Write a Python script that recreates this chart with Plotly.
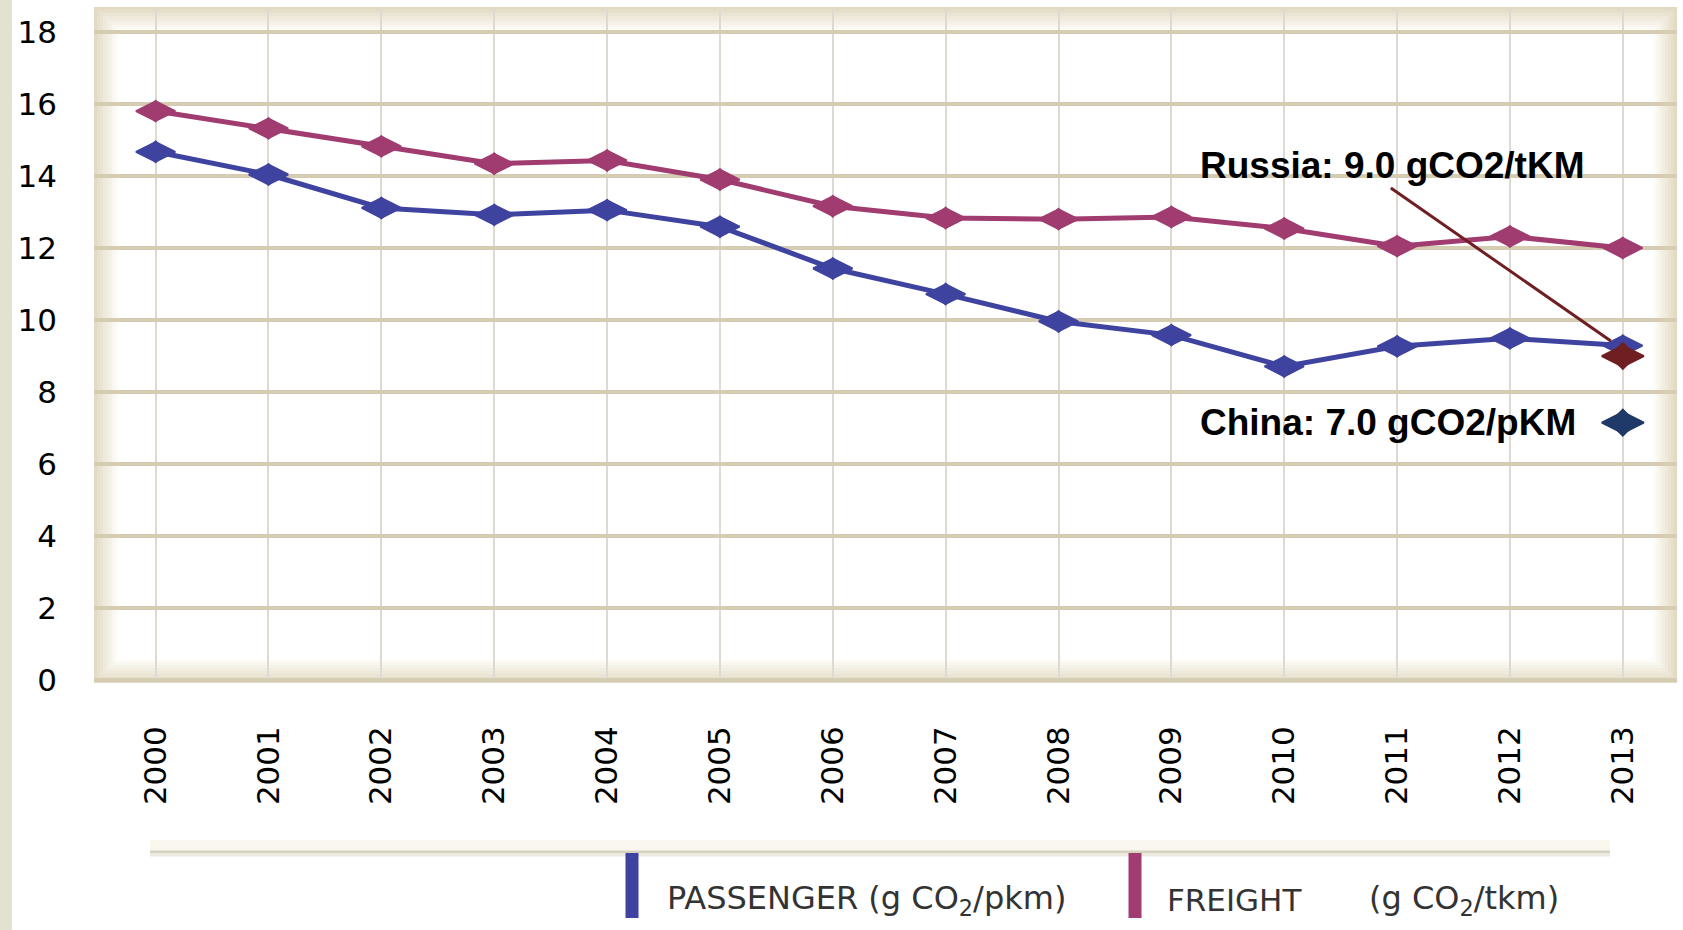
import plotly.graph_objects as go

# ---------------- data ----------------
years = list(range(2000, 2014))
year_labels = [str(y) for y in years]
passenger = [14.67, 14.04, 13.11, 12.92, 13.05, 12.59, 11.43, 10.72, 9.96, 9.58, 8.71, 9.27, 9.49, 9.29]
freight = [15.80, 15.32, 14.82, 14.34, 14.43, 13.90, 13.16, 12.83, 12.80, 12.86, 12.54, 12.05, 12.32, 12.00]
y_ticks = [0, 2, 4, 6, 8, 10, 12, 14, 16, 18]
russia_year, russia_value = 2013, 9.0
china_year, china_value = 2013, 7.15
russia_label = "Russia: 9.0 gCO2/tKM"
china_label = "China: 7.0 gCO2/pKM"
legend_passenger = "PASSENGER (g CO<sub>2</sub>/pkm)"
legend_freight = "FREIGHT"
legend_freight_unit = "(g CO<sub>2</sub>/tkm)"

# ---------------- styling ----------------
FIG_W, FIG_H = 1683, 930
L, R, T, B = 94, 6, 7, 247
PW, PH = FIG_W - L - R, FIG_H - T - B

PASS_COL = "#3f43a0"
FREIGHT_COL = "#a03c70"
RUSSIA_COL = "#6f1f22"
CHINA_COL = "#1f3a68"


def px(x):
    return (x - L) / PW


def py(y):
    return (FIG_H - B - y) / PH


fig = go.Figure()


def add_series(xs, ys, col, wide_size, core_size, with_line):
    fig.add_trace(go.Scatter(
        x=xs, y=ys, mode="lines+markers" if with_line else "markers",
        line=dict(color=col, width=5),
        marker=dict(symbol="diamond-wide", size=wide_size, color=col,
                    line=dict(color=col, width=2)),
        showlegend=False))
    fig.add_trace(go.Scatter(
        x=xs, y=ys, mode="markers",
        marker=dict(symbol="diamond", size=core_size, color=col),
        showlegend=False, hoverinfo="skip"))


add_series(years, freight, FREIGHT_COL, 28, 18, True)
add_series(years, passenger, PASS_COL, 28, 18, True)
add_series([russia_year], [russia_value], RUSSIA_COL, 30, 22, False)
add_series([china_year], [china_value], CHINA_COL, 30, 22, False)

shapes = []
# left beige strip of the page
shapes.append(dict(type="rect", xref="paper", yref="paper",
                   x0=px(0), x1=px(12), y0=py(FIG_H), y1=py(0),
                   fillcolor="#e3e1cf", line=dict(width=0), layer="below"))
# vignette of the plot area
n = 8
c0, c1 = (226, 218, 196), (253, 252, 247)
for i in range(n):
    t = i / (n - 1)
    col = "rgb(%d,%d,%d)" % tuple(round(a + (b - a) * t) for a, b in zip(c0, c1))
    d = 1.5 + 3 * i
    shapes.append(dict(type="rect", xref="paper", yref="paper",
                       x0=d / PW, x1=1 - d / PW, y0=d / PH, y1=1 - d / PH,
                       line=dict(color=col, width=3), fillcolor="rgba(0,0,0,0)",
                       layer="below"))
# legend band
shapes.append(dict(type="rect", xref="paper", yref="paper",
                   x0=px(150), x1=px(1610), y0=py(851), y1=py(840),
                   fillcolor="#faf7ee", line=dict(width=0), layer="below"))
shapes.append(dict(type="line", xref="paper", yref="paper",
                   x0=px(150), x1=px(1610), y0=py(852), y1=py(852),
                   line=dict(color="#d6d2c2", width=3), layer="below"))
shapes.append(dict(type="line", xref="paper", yref="paper",
                   x0=px(150), x1=px(1610), y0=py(855), y1=py(855),
                   line=dict(color="#ebe9e0", width=3), layer="below"))
# legend colour bars
shapes.append(dict(type="line", xref="paper", yref="paper",
                   x0=px(632), x1=px(632), y0=py(918), y1=py(853),
                   line=dict(color=PASS_COL, width=13)))
shapes.append(dict(type="line", xref="paper", yref="paper",
                   x0=px(1135), x1=px(1135), y0=py(918), y1=py(853),
                   line=dict(color=FREIGHT_COL, width=13)))
# Russia pointer line, anchored at the Russia value
shapes.append(dict(type="line", xref="x", yref="y",
                   xsizemode="pixel", ysizemode="pixel",
                   xanchor=russia_year, yanchor=russia_value,
                   x0=-232, y0=168, x1=-12, y1=15,
                   line=dict(color=RUSSIA_COL, width=3)))

annotations = [
    dict(x=russia_year, y=russia_value, xref="x", yref="y", text="<b>%s</b>" % russia_label,
         showarrow=False, xanchor="right", yanchor="middle", xshift=-37, yshift=191,
         font=dict(family="Liberation Sans, Arial", size=37, color="#000000")),
    dict(x=china_year, y=china_value, xref="x", yref="y", text="<b>%s</b>" % china_label,
         showarrow=False, xanchor="right", yanchor="middle", xshift=-45, yshift=0,
         font=dict(family="Liberation Sans, Arial", size=37, color="#000000")),
    dict(x=px(665), y=py(900), xref="paper", yref="paper", text=legend_passenger,
         showarrow=False, xanchor="left", yanchor="middle",
         font=dict(family="DejaVu Sans", size=32, color="#333333")),
    dict(x=px(1165), y=py(900), xref="paper", yref="paper", text=legend_freight,
         showarrow=False, xanchor="left", yanchor="middle",
         font=dict(family="DejaVu Sans", size=31, color="#333333")),
    dict(x=px(1367), y=py(900), xref="paper", yref="paper", text=legend_freight_unit,
         showarrow=False, xanchor="left", yanchor="middle",
         font=dict(family="DejaVu Sans", size=32, color="#333333")),
]

fig.update_layout(
    width=FIG_W, height=FIG_H,
    margin=dict(l=L, r=R, t=T, b=B, pad=0),
    paper_bgcolor="#ffffff", plot_bgcolor="#ffffff",
    shapes=shapes, annotations=annotations,
    showlegend=False,
)
fig.update_xaxes(
    range=[1999.454, 2013.48], tickmode="array", tickvals=years, ticktext=year_labels,
    tickangle=-90, showgrid=True, gridcolor="#dcdad2", gridwidth=1.5,
    zeroline=False, showline=False, ticks="", ticklabelstandoff=36,
    tickfont=dict(family="DejaVu Sans", size=31, color="#000000"),
)
fig.update_yaxes(
    range=[-0.078, 18.69], tickmode="array", tickvals=y_ticks,
    showgrid=True, gridcolor="#d6ccb2", gridwidth=4,
    zeroline=False, showline=False, ticks="", ticklabelstandoff=36,
    tickfont=dict(family="DejaVu Sans", size=31, color="#000000"),
)

fig.write_html("out.html")
